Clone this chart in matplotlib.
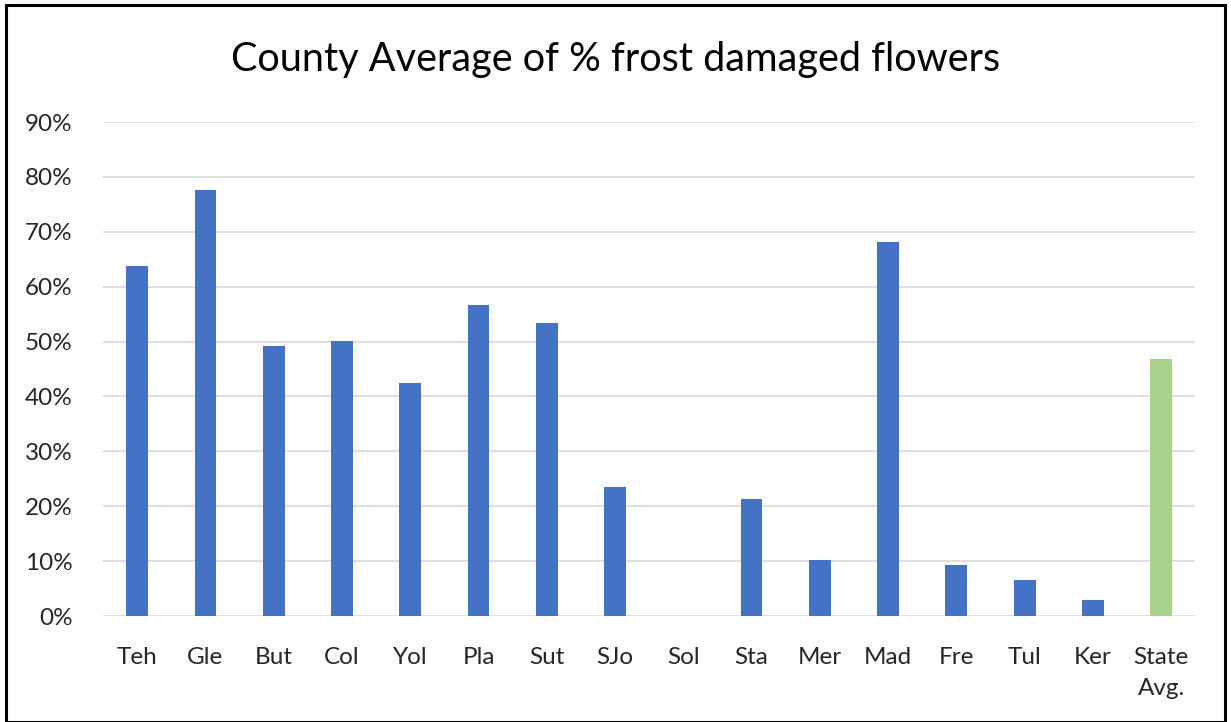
import matplotlib
matplotlib.use('Agg')
from matplotlib import pyplot as plt
from matplotlib.patches import Rectangle
import numpy as np

counties = ['Teh', 'Gle', 'But', 'Col', 'Yol', 'Pla', 'Sut', 'SJo', 'Sol',
            'Sta', 'Mer', 'Mad', 'Fre', 'Tul', 'Ker', 'State\nAvg.']
damage = [0.638, 0.776, 0.492, 0.501, 0.424, 0.566, 0.534, 0.235, 0.0,
          0.213, 0.102, 0.681, 0.093, 0.066, 0.029, 0.468]
bar_colors = ['#4472C4'] * 15 + ['#A9D18E']
yticks = [0, 0.1, 0.2, 0.3, 0.4, 0.5, 0.6, 0.7, 0.8, 0.9]

plt.rcParams['font.family'] = ['Lato', 'DejaVu Sans']

fig = plt.figure(figsize=(12.31, 7.22), dpi=100)
ax = fig.add_axes([0.0837, 0.1468, 0.8873, 0.6842])

x = np.arange(len(counties))
ax.bar(x, damage, width=0.32, color=bar_colors, zorder=3)

ax.set_xlim(-0.5, len(counties) - 0.5)
ax.set_ylim(0, 0.9)
ax.set_yticks(yticks)
ax.set_yticklabels([f'{int(round(t * 100))}%' for t in yticks])
ax.set_xticks(x)
ax.set_xticklabels(counties, va='top', linespacing=1.6, multialignment='center')
ax.grid(axis='y', color='#D9D9D9', linewidth=1.2, zorder=0)
ax.tick_params(axis='both', length=0, labelsize=17.5, colors='#262626')
ax.tick_params(axis='y', pad=22)
ax.tick_params(axis='x', pad=22)
for s in ax.spines.values():
    s.set_visible(False)

fig.text(0.5, 0.917, 'County Average of % frost damaged flowers',
         ha='center', va='center', fontsize=28.5, color='black')

# outer border
fig.patches.append(Rectangle((0.005, 0.0), 0.99, 0.993, transform=fig.transFigure,
                             fill=False, edgecolor='black', linewidth=2.2))

fig.savefig('out.png', dpi=100)
